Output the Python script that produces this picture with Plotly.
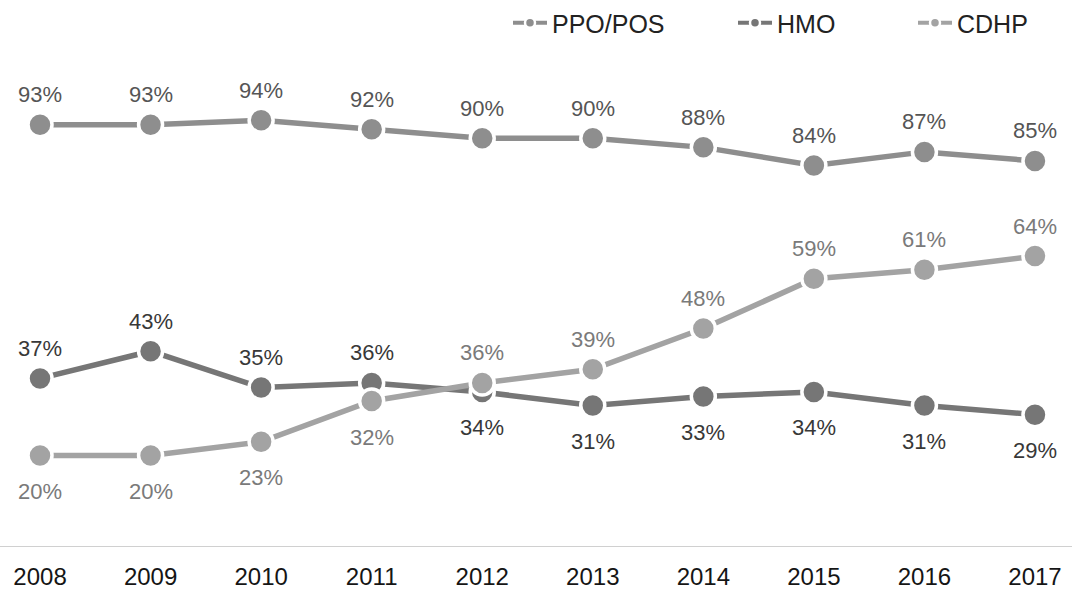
import plotly.graph_objects as go

years = ["2008", "2009", "2010", "2011", "2012", "2013", "2014", "2015", "2016", "2017"]
ppo_pos = [93, 93, 94, 92, 90, 90, 88, 84, 87, 85]
hmo = [37, 43, 35, 36, 34, 31, 33, 34, 31, 29]
cdhp = [20, 20, 23, 32, 36, 39, 48, 59, 61, 64]

ppo_side = ["above"] * 10
hmo_side = ["above"] * 4 + ["below"] * 6
cdhp_side = ["below"] * 4 + ["above"] * 6

xi = list(range(len(years)))
FONT = "Liberation Sans, Arial, sans-serif"

fig = go.Figure()
annotations = []

def add(name, vals, color, tcolor, sides, legend, lx):
    fig.add_trace(go.Scatter(
        x=xi, y=vals, name=name, mode="lines+markers",
        line=dict(color=color, width=5.5),
        marker=dict(size=24, color=color, line=dict(color="white", width=3.5)),
        cliponaxis=False, showlegend=False, hoverinfo="x+y",
    ))
    for i, v, s in zip(xi, vals, sides):
        annotations.append(dict(
            x=i, y=v, xref="x", yref="y", text=f"{v}%", showarrow=False,
            yshift=30 if s == "above" else -36,
            font=dict(size=22, color=tcolor, family=FONT),
        ))
    fig.add_trace(go.Scatter(
        x=[None], y=[None], name=name, mode="lines+markers",
        line=dict(color=color, width=4),
        marker=dict(size=10, color=color, line=dict(color="white", width=2.5)),
        showlegend=True, legend=legend,
    ))
    return dict(orientation="h", x=lx, xanchor="left", y=1.0, yref="container",
                yanchor="top", font=dict(size=25, color="#222222", family=FONT),
                itemwidth=34, bgcolor="rgba(0,0,0,0)", borderwidth=0)

l1 = add("PPO/POS", ppo_pos, "#8e8e8e", "#555555", ppo_side, "legend", 508 / 1072)
l2 = add("HMO", hmo, "#767676", "#383838", hmo_side, "legend2", 733 / 1072)
l3 = add("CDHP", cdhp, "#a3a3a3", "#7a7a7a", cdhp_side, "legend3", 913 / 1072)

fig.update_layout(
    width=1072, height=592,
    margin=dict(l=0, r=0, t=93, b=46, autoexpand=False),
    paper_bgcolor="white", plot_bgcolor="white",
    font=dict(family=FONT, color="#222222"),
    showlegend=True,
    legend=l1, legend2=l2, legend3=l3,
    annotations=annotations,
    xaxis=dict(tickmode="array", tickvals=xi, ticktext=years,
               range=[-0.362, 9.335], showgrid=False, zeroline=False,
               showline=True, linecolor="#d0d0d0", linewidth=1,
               tickfont=dict(size=24, color="#151515", family=FONT), ticks="",
               ticklabelstandoff=9, automargin=False, fixedrange=True),
    yaxis=dict(range=[0, 100], visible=False, showgrid=False, zeroline=False,
               automargin=False, fixedrange=True),
)

fig.write_html("out.html", config={"displayModeBar": False},
               post_script="document.body.style.margin='0';document.body.style.overflow='hidden';")
